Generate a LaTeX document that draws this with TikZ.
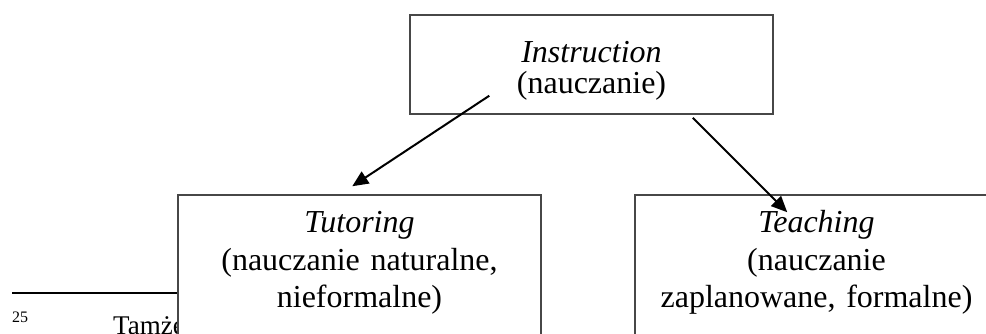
\documentclass[tikz,border=0pt]{standalone}
\usepackage{fontspec}
\setmainfont{Liberation Serif}
\usetikzlibrary{arrows.meta}

\begin{document}
\begin{tikzpicture}[x=1pt, y=-1pt,
		box/.style={draw=black!72, line width=1.5pt, fill=white, inner sep=0pt, text width=363pt, align=center, anchor=base},
		arrow/.style={-{Triangle[length=16pt,width=14pt]}, line width=2pt},
		note/.style={inner sep=0pt, anchor=base west}
		]
		\useasboundingbox (0,0) rectangle (986,334);
		
		% Footnote
		\draw[line width=1.5pt] (12,293) -- (200,293);
		\node[note, font=\fontsize{16}{19}\selectfont] (fnum) at (12,322) {25};
		\node[note, font=\fontsize{27}{31}\selectfont] (fnote) at (113,334) {Tamże};
		
		% Nodes
		\node[box, font=\fontsize{32}{31}\selectfont, text height=48pt, text depth=51pt] (instr) at (591.5,63) {\textit{Instruction}\\(nauczanie)};
		\node[box, font=\fontsize{32}{37.5}\selectfont, text height=38pt, text depth=150pt] (tutor) at (359.5,233) {\textit{Tutoring}\\(nauczanie naturalne,\\nieformalne)};
		\node[box, font=\fontsize{32}{37.5}\selectfont, text height=38pt, text depth=150pt] (teach) at (816.5,233) {\textit{Teaching}\\(nauczanie\\zaplanowane, formalne)};
		
		% Between instruction and tutoring
		\draw[arrow] ([xshift=80pt,yshift=19pt]instr.south west) -- ([xshift=175pt,yshift=8pt]tutor.north west);
		
		% Between instruction and teaching
		\draw[arrow] ([xshift=-81pt,yshift=-3pt]instr.south east) -- ([xshift=153pt,yshift=-18pt]teach.north west);
	\end{tikzpicture}
\end{document}
